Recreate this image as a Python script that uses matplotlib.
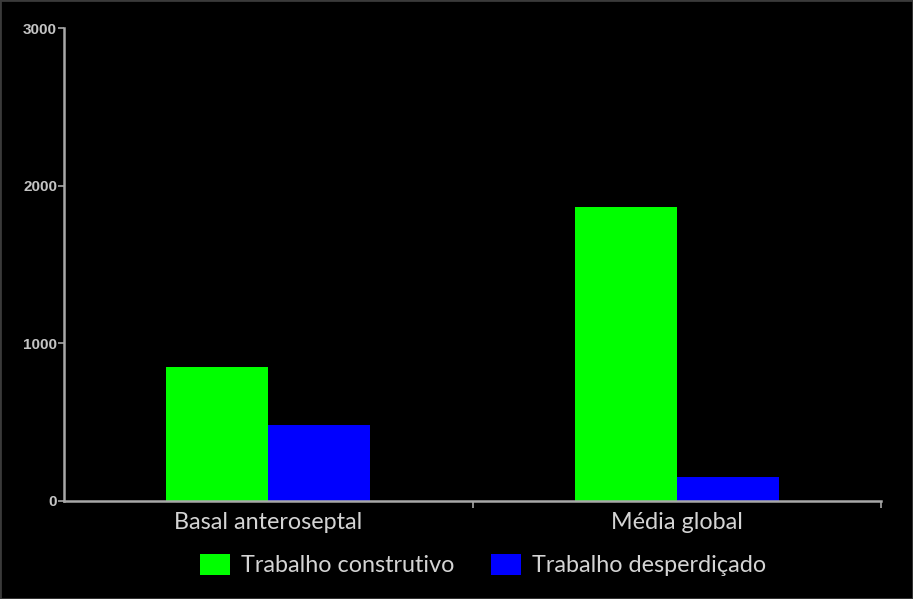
import matplotlib
matplotlib.use("Agg")
import matplotlib.pyplot as plt
from matplotlib.patches import Patch
import numpy as np

categories = ["Basal anteroseptal", "Média global"]
construtivo = [850, 1864]
desperdicado = [482, 152]
series_names = ["Trabalho construtivo", "Trabalho desperdiçado"]
yticks = [0, 1000, 2000, 3000]

W, H = 913, 599
fig = plt.figure(figsize=(W / 100, H / 100), dpi=100, facecolor="black")
ax = fig.add_axes([64 / W, 1 - 501 / H, (881 - 64) / W, (501 - 28) / H])
ax.set_facecolor("black")

x = np.arange(len(categories))
bw = 0.25
ax.bar(x - bw / 2, construtivo, width=bw, color="#00ff00", zorder=2)
ax.bar(x + bw / 2, desperdicado, width=bw, color="#0000ff", zorder=2)

ax.set_xlim(-0.5, 1.5)
ax.set_ylim(0, 3000)

for s in ["top", "right"]:
    ax.spines[s].set_visible(False)
for s in ["left", "bottom"]:
    ax.spines[s].set_color("#a8a8a8")
    ax.spines[s].set_linewidth(1.8)

ax.set_yticks(yticks)
ax.set_yticklabels([str(v) for v in yticks], fontsize=11, fontweight="bold",
                   color="#c4c4c4", family="Liberation Sans")
ax.tick_params(axis="y", length=4, width=1.2, color="#a8a8a8", pad=1)

ax.set_xticks([0.5, 1.5])
ax.set_xticklabels([])
ax.set_xticks(x, minor=True)
ax.set_xticklabels(categories, minor=True, fontsize=16.8, color="#d4d4d4", family="Lato")
ax.tick_params(axis="x", which="major", length=5, width=1.2, color="#a8a8a8")
ax.tick_params(axis="x", which="minor", length=0, pad=8)

handles = [Patch(facecolor="#00ff00", edgecolor="none"),
           Patch(facecolor="#0000ff", edgecolor="none")]
leg = fig.legend(handles, series_names, loc="center", bbox_to_anchor=(483 / W, 1 - 565 / H),
                 ncol=2, frameon=False, labelcolor="#d4d4d4",
                 handlelength=1.29, handleheight=1.0, handletextpad=0.47, columnspacing=1.6,
                 borderpad=0, prop={"family": "Lato", "size": 16.8})

fig.patches.append(plt.Rectangle((0, 0), 1, 1, transform=fig.transFigure,
                                 fill=False, edgecolor="#3a3a3a", linewidth=2))

fig.savefig("out.png", dpi=100, facecolor="black")
